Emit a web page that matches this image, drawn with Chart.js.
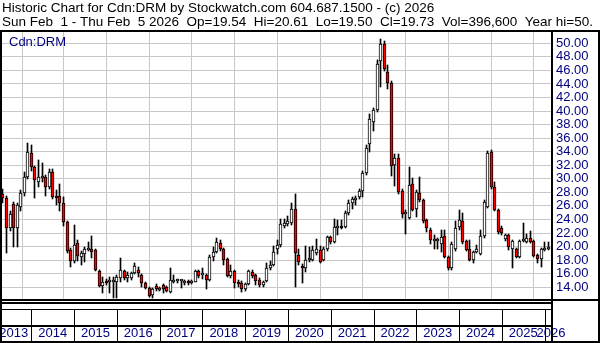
<!DOCTYPE html>
<html>
<head>
<meta charset="utf-8">
<script src="https://cdn.jsdelivr.net/npm/chart.js@4.4.1/dist/chart.umd.min.js"></script>
<style>
  html, body { margin: 0; padding: 0; background: #fff; }
</style>
</head>
<body>
<canvas id="chart" width="600" height="343"></canvas>
<script>
// monthly candles, first one is May 2013
const startYear = 2013;
const startMonth = 4;
const yearLabels = ['2013','2014','2015','2016','2017','2018','2019','2020','2021','2022','2023','2024','2025','2026'];
const priceTicks = [14,16,18,20,22,24,26,28,30,32,34,36,38,40,42,44,46,48,50];

const opens = [
  27.7,27.1,22.8,26.3,22.8,25.8,27.9,30.3,33.8,31.8,29.6,30.1,30.2,28.8,31.0,27.45,27.4,26.5,23.6,19.5,
  17.8,20.5,18.4,18.9,19.5,19.6,19.5,16.4,14.2,14.9,14.8,14.8,14.8,15.4,16.4,15.3,15.3,16.1,16.5,15.8,
  14.65,13.95,12.85,14.2,13.6,14.3,14.0,13.35,14.8,14.9,14.9,14.6,14.8,14.6,14.8,16.4,15.8,15.8,15.05,18.5,
  19.25,20.5,19.6,18.1,15.65,16.4,14.8,14.65,13.7,14.45,16.3,15.8,15.05,14.3,14.95,16.9,17.3,19.6,20.3,23.0,
  23.3,23.5,25.5,18.75,17.2,16.8,18.0,18.0,19.0,19.5,18.0,19.6,21.35,20.7,22.7,23.0,22.9,24.9,26.5,26.9,
  27.26,28.24,30.8,35.1,38.4,40.1,47.4,49.9,45.8,44.2,32.0,33.0,28.25,24.8,24.2,29.3,25.6,27.95,26.8,23.9,
  22.5,20.85,20.85,20.4,21.55,18.4,16.8,19.6,22.9,23.8,20.85,19.7,18.0,19.25,18.9,21.55,25.9,34.0,28.75,25.4,
  22.8,21.05,21.7,19.7,19.6,18.5,20.85,20.7,21.2,20.85,18.7,18.1,19.5,19.6
];
const highs = [
  28.5,27.5,25.3,26.6,26.5,28.3,31.0,35.3,35.0,31.9,32.8,32.3,30.6,31.4,31.4,28.3,29.3,27.3,23.8,19.8,
  23.2,21.0,19.3,20.0,20.7,21.5,19.6,16.5,15.5,15.2,15.5,15.5,15.8,18.3,16.6,16.3,16.3,17.6,17.0,16.0,
  14.8,14.0,13.9,14.5,14.0,14.5,14.2,16.8,15.8,15.2,15.1,15.1,15.0,15.0,16.5,16.5,16.8,16.0,18.7,20.0,
  21.2,20.9,19.8,18.3,17.3,16.6,15.0,14.9,14.6,16.6,16.5,16.0,15.3,14.9,17.6,17.8,20.1,21.0,24.0,24.0,
  24.5,26.5,27.75,19.6,17.4,20.1,20.0,20.1,21.1,20.1,19.9,21.5,21.5,24.0,23.9,23.9,25.2,26.9,27.35,27.5,
  28.5,31.1,35.0,39.5,40.5,47.5,50.7,50.4,46.8,44.4,33.6,33.6,28.5,25.4,31.8,30.1,28.3,30.3,27.0,24.1,
  22.7,21.7,21.2,22.5,22.5,18.6,20.6,23.8,25.4,24.9,21.0,20.9,19.4,20.2,22.5,26.8,34.1,34.2,29.6,25.6,
  23.0,21.9,21.9,21.0,19.8,21.0,23.5,21.8,22.3,21.0,18.9,19.8,20.6,20.7
];
const lows = [
  26.5,19.1,22.3,20.0,20.0,25.3,27.5,30.0,31.2,27.1,28.8,29.5,27.4,28.5,27.0,26.1,25.3,23.0,19.0,17.0,
  17.5,17.9,17.3,17.7,19.3,18.3,16.4,14.0,13.2,14.3,13.1,12.45,12.35,14.8,15.0,14.8,15.0,15.9,15.5,14.1,
  13.8,12.5,12.35,13.5,13.4,13.2,13.3,13.2,14.6,14.6,13.9,14.4,14.4,14.5,14.7,15.3,15.2,13.8,14.9,17.9,
  19.0,19.3,17.3,15.5,15.4,13.9,14.1,13.3,13.5,14.3,15.4,14.4,14.1,14.0,14.8,16.6,17.1,18.9,20.0,22.7,
  23.0,23.2,14.0,17.3,14.55,16.3,17.7,17.8,18.7,17.5,17.8,19.4,20.4,20.5,21.7,22.6,22.7,24.7,25.5,26.1,
  27.0,27.3,30.5,34.0,37.1,39.8,43.5,45.9,43.3,30.4,28.9,27.8,24.2,21.9,24.0,25.2,24.4,26.6,23.5,22.2,
  20.4,19.7,19.7,19.2,18.3,16.6,16.6,19.4,22.5,20.4,19.3,17.8,17.6,19.0,18.7,21.3,25.7,28.5,25.2,21.9,
  21.7,20.85,19.5,16.8,18.3,18.3,20.6,20.5,20.5,18.4,17.6,17.0,19.3,19.5
];
const closes = [
  27.2,22.8,24.8,22.8,26.1,27.9,30.3,34.0,31.8,29.8,30.3,30.4,28.8,31.0,27.3,27.1,26.4,23.6,19.4,17.8,
  20.3,18.6,19.0,19.6,19.7,19.2,16.6,14.2,14.8,14.6,14.85,14.8,15.55,16.5,15.3,15.8,16.1,17.1,16.05,14.65,
  13.95,12.75,13.7,13.7,13.8,13.7,13.5,15.05,15.05,14.95,14.9,14.9,14.55,14.9,16.4,15.6,15.85,15.05,18.5,19.2,
  20.6,19.6,18.0,15.65,16.4,14.55,14.45,13.8,14.45,16.4,15.65,14.95,14.3,14.7,16.8,17.3,19.25,20.3,23.3,23.5,
  23.7,25.6,19.0,17.65,16.8,18.0,18.2,19.5,19.7,17.75,19.6,21.35,20.7,22.85,23.05,22.8,24.9,26.5,26.96,27.1,
  28.24,30.9,34.6,38.9,40.1,47.0,49.9,46.15,44.2,31.86,33.0,28.1,24.8,25.1,29.1,25.4,28.1,26.8,23.7,22.7,
  20.95,20.9,20.85,21.35,18.5,16.9,20.4,22.7,23.9,20.6,19.5,18.0,19.25,19.7,21.55,26.6,33.85,28.75,25.4,22.2,
  21.95,21.7,19.9,20.85,18.5,20.85,20.9,21.2,20.7,18.6,18.1,19.6,19.75,19.96
];

const textFont = '"Liberation Sans", Arial, sans-serif';
const navy = '#000080';
const gridGray = '#c8c8c8';

const xMin = -0.25;
const xMax = 153.8;

// january positions (dividers) and year centres (labels)
const janTicks = [];
const xTicks = [];
yearLabels.forEach((yr, k) => {
  const jan = k * 12 - startMonth;
  if (jan > xMin && jan <= xMax) {
    janTicks.push(jan);
    xTicks.push({ value: jan, label: '', jan: true });
  }
  let mid = jan + 6;
  if (mid < xMin + 3.3) mid = xMin + 3.3;
  if (mid > xMax) mid = xMax;
  xTicks.push({ value: mid, label: yr, jan: false });
});
xTicks.sort((a, b) => a.value - b.value);

const wickData = opens.map((o, i) => ({ x: i, y: [lows[i], highs[i]] }));
const bodyData = opens.map((o, i) => {
  let lo = Math.min(o, closes[i]);
  let hi = Math.max(o, closes[i]);
  if (hi - lo < 0.3) { hi = lo + 0.3; }
  return { x: i, y: [lo, hi] };
});
const bodyColors = opens.map((o, i) => closes[i] >= o ? '#ffffff' : '#ff0000');

// snap bars to whole pixels so the thin wicks stay crisp
const snapPlugin = {
  id: 'snap',
  afterDatasetsUpdate(chart) {
    chart.data.datasets.forEach((ds, di) => {
      const meta = chart.getDatasetMeta(di);
      meta.data.forEach(el => {
        el.x = Math.floor(el.x) + 0.5;
        el.y = Math.round(el.y);
        el.base = Math.round(el.base);
      });
    });
  }
};

const framePlugin = {
  id: 'frame',
  afterDraw(chart) {
    const ctx = chart.ctx;
    const area = chart.chartArea;
    const xs = chart.scales.x;
    ctx.save();
    ctx.fillStyle = '#000';
    ctx.fillRect(0, 30, 600, 2);
    ctx.fillRect(0, 30, 2, 313);
    ctx.fillRect(598, 30, 2, 313);
    ctx.fillRect(area.right, 30, 2, 313);
    ctx.fillRect(0, area.bottom, 600, 2);
    ctx.fillRect(0, 302, area.right, 2);
    ctx.fillRect(0, 309, area.right, 1);
    ctx.fillRect(0, 325, area.right, 2);
    ctx.fillRect(0, 341, 600, 2);
    janTicks.forEach(v => {
      const px = Math.round(xs.getPixelForValue(v));
      ctx.fillRect(px, 309, 1, 32);
    });
    ctx.fillStyle = navy;
    ctx.font = '13px ' + textFont;
    ctx.textBaseline = 'alphabetic';
    ctx.fillText('Cdn:DRM', 9, 46);
    ctx.restore();
  }
};

new Chart(document.getElementById('chart'), {
  type: 'bar',
  data: {
    datasets: [
      {
        label: 'wick',
        data: wickData,
        backgroundColor: '#000000',
        barThickness: 1,
        grouped: false,
        order: 2
      },
      {
        label: 'body',
        data: bodyData,
        backgroundColor: bodyColors,
        borderColor: '#000000',
        borderWidth: 1,
        borderSkipped: false,
        barThickness: 3,
        grouped: false,
        order: 1
      }
    ]
  },
  options: {
    responsive: false,
    animation: false,
    layout: { padding: { left: 2, right: 0, top: 0, bottom: 0 } },
    plugins: {
      legend: { display: false },
      tooltip: { enabled: false },
      title: {
        display: true,
        align: 'start',
        color: '#000000',
        text: [
          'Historic Chart for Cdn:DRM by Stockwatch.com 604.687.1500 - (c) 2026',
          'Sun Feb  1 - Thu Feb  5 2026  Op=19.54  Hi=20.61  Lo=19.50  Cl=19.73  Vol=396,600  Year hi=50.'
        ],
        font: { family: textFont, size: 13.5, weight: 'normal', lineHeight: '14px' },
        padding: { top: 1, bottom: 3 }
      }
    },
    scales: {
      x: {
        type: 'linear',
        min: xMin,
        max: xMax,
        offset: false,
        afterBuildTicks(scale) { scale.ticks = xTicks.map(t => ({ value: t.value, jan: t.jan })); },
        afterFit(scale) { scale.height = 44; scale.paddingLeft = 0; scale.paddingRight = 0; },
        ticks: {
          autoSkip: false,
          maxRotation: 0,
          padding: 27,
          color: navy,
          font: { family: textFont, size: 13 },
          callback(value, index) { return xTicks[index].label; }
        },
        grid: {
          drawTicks: false,
          color: ctx => (ctx.tick && ctx.tick.jan) ? gridGray : 'rgba(0,0,0,0)'
        },
        border: { display: false }
      },
      y: {
        position: 'right',
        min: 12.26,
        max: 51.67,
        afterBuildTicks(scale) { scale.ticks = priceTicks.map(v => ({ value: v })); },
        afterFit(scale) { scale.width = 49; },
        ticks: {
          autoSkip: false,
          padding: 5,
          color: navy,
          font: { family: textFont, size: 13 },
          callback: v => v.toFixed(2)
        },
        grid: { drawTicks: false, color: gridGray },
        border: { display: false }
      }
    }
  },
  plugins: [snapPlugin, framePlugin]
});
</script>
</body>
</html>
